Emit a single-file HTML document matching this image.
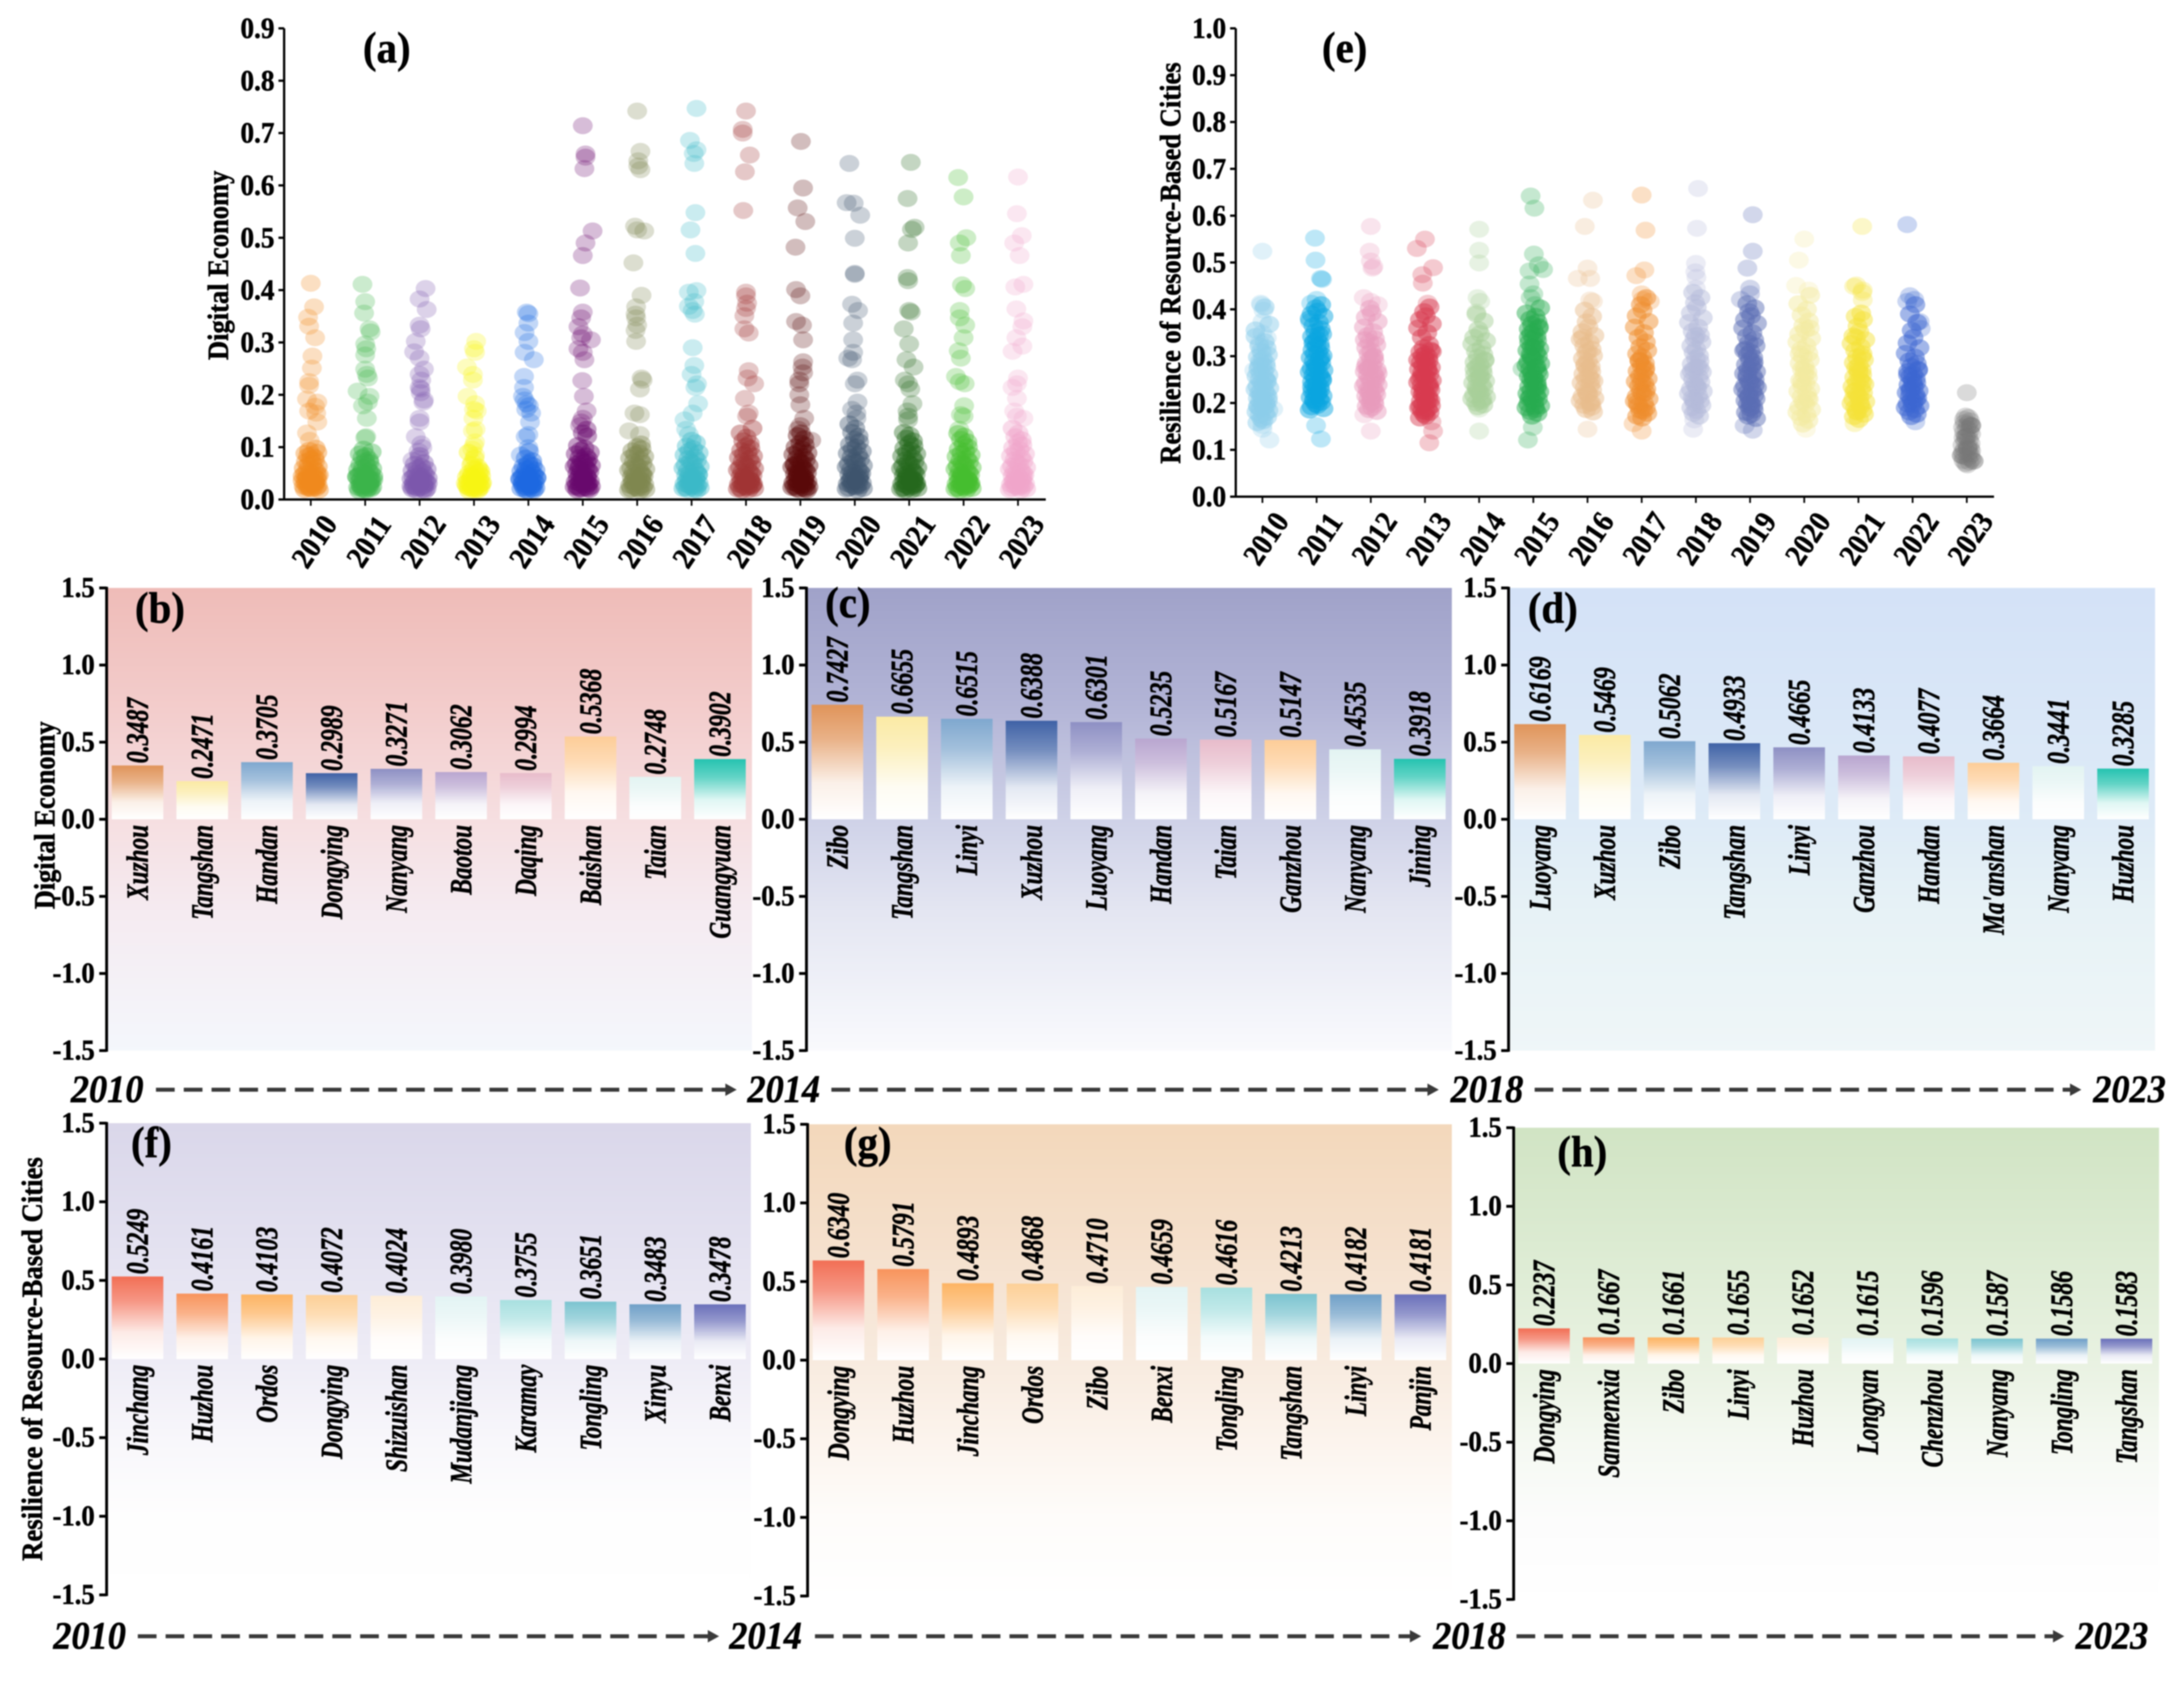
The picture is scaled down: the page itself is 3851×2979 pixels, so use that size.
<!DOCTYPE html>
<html lang="en">
<head>
<meta charset="utf-8">
<title>Digital Economy and Resilience of Resource-Based Cities</title>
<style>
html,body{margin:0;padding:0;background:#fff;width:3851px;height:2979px;overflow:hidden}
svg{display:block;filter:blur(1px)}
text{font-family:"Liberation Serif",serif;font-weight:bold;fill:#000;stroke:#000;stroke-width:.8px}
</style>
</head>
<body>
<svg id="root" xmlns="http://www.w3.org/2000/svg" width="3851" height="2979" viewBox="0 0 3851 2979"><defs id="defs"></defs></svg>
<script>
const years=[2010,2011,2012,2013,2014,2015,2016,2017,2018,2019,2020,2021,2022,2023];
const ticksDE=[0,.1,.2,.3,.4,.5,.6,.7,.8,.9];
const ticksRE=[0,.1,.2,.3,.4,.5,.6,.7,.8,.9,1];
const ticksBar=[-1.5,-1,-.5,0,.5,1,1.5];
const colorsDE=['#f08a1d','#3db54a','#7e57ad','#f8f414','#1f6ae0','#6a0a6e','#7f8650','#3bb9c9','#a03535','#5a0a0a','#3e566e','#25681f','#45bd30','#efa6cb'];
const colorsRE=['#8dcdea','#0aa5e0','#e79bbd','#d83a50','#a8cf98','#27ab50','#e8bd8c','#ef8c2b','#b4bada','#5a6cb4','#f3ea9e','#f5e138','#3c66d0','#777777'];
const jitterCycle=[0,.08,-.09,.03,-.04,.13,-.13,.06,-.06,.1,-.02,.02,-.11,.15,-.15,.05,-.07,.09,-.03,.12,-.1,.01,-.05,.07];

/* Digital economy strip values by year (outliers first, then the dense mass) */
const de2010=[.413,.368,.348,.331,.309,.274,.251,.225,.218,.192,.186,.178,.169,.165,.148,.127,.113,.098,.094,.09,.088,.085,.083,.08,.077,.074,.072,.069,.066,.063,.06,.058,.056,.054,.052,.05,.049,.047,.045,.044,.042,.041,.04,.038,.037,.036,.034,.033,.032,.031,.03,.028,.027,.026,.025,.024,.023,.022,.021,.02,.019,.018,.036,.029,.041,.033,.024,.046];
const de2011=[.411,.378,.356,.326,.32,.297,.288,.276,.249,.239,.232,.207,.197,.186,.179,.155,.12,.118,.096,.091,.087,.084,.08,.076,.073,.071,.067,.064,.061,.059,.057,.055,.053,.051,.05,.048,.046,.045,.043,.042,.04,.039,.037,.036,.035,.033,.032,.03,.029,.028,.027,.026,.025,.024,.023,.022,.021,.02,.019,.018,.017,.038,.044,.031,.026,.034];
const de2012=[.403,.383,.363,.333,.326,.302,.282,.27,.249,.239,.228,.214,.211,.204,.19,.186,.155,.148,.12,.106,.099,.092,.078,.075,.084,.07,.067,.063,.06,.058,.055,.053,.05,.048,.046,.045,.043,.041,.04,.038,.037,.036,.034,.033,.032,.03,.029,.028,.027,.026,.024,.023,.022,.021,.02,.019,.018,.017,.035,.039,.027,.031,.025,.042];
const de2013=[.302,.288,.281,.253,.239,.228,.197,.183,.172,.169,.155,.134,.131,.11,.103,.096,.085,.071,.057,.054,.09,.079,.066,.062,.059,.052,.05,.048,.047,.045,.043,.041,.04,.038,.036,.035,.033,.032,.031,.029,.028,.027,.025,.024,.023,.022,.021,.02,.019,.018,.017,.037,.044,.03,.026,.034];
const de2014=[.358,.355,.337,.319,.302,.281,.267,.235,.214,.197,.19,.183,.179,.172,.165,.148,.124,.12,.099,.085,.071,.092,.079,.074,.068,.065,.063,.06,.058,.056,.054,.052,.05,.048,.047,.045,.044,.042,.04,.039,.037,.036,.034,.033,.032,.031,.029,.028,.027,.026,.025,.024,.023,.022,.021,.02,.019,.018,.017,.035,.03,.041,.038,.026];
const de2015=[.714,.66,.654,.632,.513,.49,.466,.404,.358,.347,.33,.316,.309,.305,.288,.281,.267,.227,.197,.169,.155,.148,.141,.134,.127,.121,.103,.098,.094,.09,.087,.083,.08,.077,.074,.071,.068,.065,.063,.061,.059,.057,.055,.053,.05,.048,.047,.045,.043,.042,.04,.038,.037,.035,.034,.033,.031,.03,.029,.028,.026,.025,.024,.023,.022,.021,.02,.019,.018,.036,.064,.072,.044,.029];
const de2016=[.742,.665,.647,.637,.63,.522,.515,.513,.452,.39,.368,.354,.347,.333,.323,.302,.232,.228,.211,.165,.162,.131,.124,.106,.101,.097,.093,.089,.086,.082,.079,.076,.072,.069,.066,.063,.06,.058,.056,.053,.051,.049,.047,.045,.043,.041,.04,.038,.036,.035,.033,.032,.03,.029,.027,.026,.025,.023,.022,.021,.02,.019,.018,.017,.034,.046];
const de2017=[.747,.686,.668,.661,.642,.548,.515,.47,.399,.396,.378,.369,.361,.354,.29,.256,.239,.221,.214,.183,.165,.152,.134,.124,.113,.108,.102,.097,.093,.089,.085,.081,.078,.075,.072,.069,.066,.063,.06,.058,.055,.053,.05,.048,.046,.044,.043,.041,.04,.038,.036,.034,.033,.031,.03,.029,.028,.026,.025,.024,.023,.022,.021,.02,.019,.018,.037,.047];
const de2018=[.742,.707,.7,.658,.626,.552,.396,.389,.375,.365,.351,.326,.318,.246,.232,.221,.193,.165,.159,.136,.127,.119,.112,.107,.102,.098,.094,.09,.086,.083,.08,.077,.073,.07,.067,.064,.061,.059,.056,.054,.052,.05,.048,.046,.044,.042,.041,.039,.037,.036,.034,.033,.031,.03,.029,.028,.027,.025,.024,.023,.022,.021,.02,.019,.018,.035,.043,.028];
const de2019=[.684,.595,.557,.531,.482,.401,.389,.34,.333,.305,.263,.253,.242,.228,.221,.2,.181,.155,.141,.134,.113,.127,.122,.116,.108,.104,.1,.096,.092,.089,.086,.082,.079,.076,.073,.07,.067,.065,.062,.06,.058,.056,.053,.051,.049,.047,.045,.043,.042,.04,.038,.037,.035,.034,.032,.031,.03,.029,.027,.026,.025,.024,.023,.022,.021,.02,.019,.018,.066,.061,.048,.036];
const de2020=[.642,.567,.566,.543,.499,.432,.43,.373,.361,.337,.305,.27,.281,.267,.228,.221,.186,.172,.165,.155,.144,.136,.128,.121,.115,.11,.105,.1,.096,.092,.088,.085,.081,.077,.074,.071,.068,.065,.062,.059,.057,.054,.052,.05,.048,.046,.044,.042,.04,.038,.036,.035,.033,.032,.03,.029,.028,.026,.025,.024,.022,.021,.02,.018,.037,.045];
const de2021=[.644,.575,.52,.516,.49,.424,.418,.361,.358,.326,.297,.267,.253,.228,.221,.211,.183,.169,.159,.152,.128,.123,.117,.112,.107,.102,.098,.094,.09,.087,.083,.08,.076,.073,.07,.067,.064,.061,.059,.056,.054,.052,.05,.048,.046,.044,.042,.04,.039,.037,.035,.034,.032,.031,.03,.028,.027,.026,.025,.023,.022,.021,.02,.019,.018,.036,.044,.029];
const de2022=[.615,.578,.5,.49,.466,.41,.403,.361,.347,.333,.309,.284,.27,.235,.225,.221,.179,.162,.159,.134,.126,.121,.115,.11,.105,.1,.096,.092,.088,.085,.082,.078,.075,.072,.069,.066,.064,.061,.058,.056,.054,.051,.049,.047,.045,.043,.042,.04,.038,.037,.035,.034,.032,.031,.03,.028,.027,.026,.024,.023,.022,.021,.02,.019,.018,.036,.046,.029];
const de2023=[.616,.546,.504,.49,.466,.411,.406,.364,.341,.33,.309,.293,.283,.232,.221,.214,.193,.169,.159,.155,.136,.127,.12,.114,.109,.104,.099,.095,.091,.087,.083,.08,.076,.073,.07,.067,.064,.061,.058,.055,.053,.051,.049,.047,.045,.043,.041,.039,.038,.036,.034,.033,.031,.03,.029,.027,.026,.025,.024,.023,.022,.02,.019,.018,.035,.044];
const deSeries=[de2010,de2011,de2012,de2013,de2014,de2015,de2016,de2017,de2018,de2019,de2020,de2021,de2022,de2023];
/* Horizontal scatter of the readable outliers, in fractions of a category */
const deSpread2010=[0,.06,-.05,-.03,.08,.03,.02,-.03,-.03,-.07,.12,.08,-.03,.1,.12,-.07,-.02];
const deSpread2011=[-.05,0,-.02,.08,.1,0,.02,0,0,.03,.05,-.14,.08,.05,-.04,.03,.02,0];
const deSpread2012=[.11,0,.13,0,.02,-.07,-.1,0,.08,0,.03,0,.02,.02,.08,.07,0,0,-.07,.03,.05,-.02,0,-.13];
const deSpread2013=[.04,0,.02,-.13,-.02,-.02,-.12,.02,0,.05,-.01,.03,-.02,.02,0,-.03,.02,-.03,.1];
const deSpread2014=[-.03,0,0,-.07,0,-.07,.1,-.08,-.08,-.1,-.07,-.03,.01,-.04,.05,.03,0,-.05,0,-.14,0];
const deSpread2015=[0,.05,.05,.03,.18,.05,0,-.05,0,-.03,-.08,0,-.03,.15,-.08,0,.03,-.01,.02,.07,0,-.03,-.05];
const deSpread2016=[0,.06,.02,.02,.06,-.04,0,.13,-.07,.08,-.02,-.03,-.02,0,-.03,-.02,.08,.1,.05,-.05,.05,-.15,.05];
const deSpread2017=[.09,-.03,.09,.04,.05,.07,-.02,.07,.09,-.05,.05,-.05,.02,.06,.02,.05,0,.1,.07,.12,.02,-.13,-.1,-.05];
const deSpread2018=[0,-.06,-.06,.07,-.02,-.05,0,0,.02,0,-.03,-.03,.05,.05,.03,.15,-.02,.05,.02];
const deSpread2019=[.01,.05,-.05,.09,-.09,-.08,0,-.08,.03,.05,.05,.04,.05,-.02,-.02,-.02,0,.07,0,-.04,.2];
const deSpread2020=[-.1,-.15,-.02,.1,0,0,0,-.05,.06,-.03,-.03,-.12,-.03,-.05,.05,0,.05,-.05,.03,.03];
const deSpread2021=[.03,-.03,.1,.05,-.02,-.03,-.02,0,.03,-.1,0,-.05,.08,-.08,-.02,.02,.06,-.03,-.02,-.02];
const deSpread2022=[-.1,0,.05,-.07,-.05,-.03,.03,-.07,-.07,.03,0,-.09,-.05,-.14,-.07,.02,.01,-.05,0,-.08];
const deSpread2023=[0,-.02,.07,-.07,.03,.1,-.05,-.03,.1,.08,-.03,.08,-.1,0,-.02,-.1,-.02,-.07,-.02,.1];
const deSpreads=[deSpread2010,deSpread2011,deSpread2012,deSpread2013,deSpread2014,deSpread2015,deSpread2016,deSpread2017,deSpread2018,deSpread2019,deSpread2020,deSpread2021,deSpread2022,deSpread2023];

/* Resilience strip values by year */
const re2010=[.524,.413,.41,.398,.374,.349,.339,.328,.308,.152,.144,.121,.27,.187,.342,.331,.322,.317,.311,.303,.298,.294,.289,.285,.281,.277,.273,.268,.264,.26,.257,.253,.25,.246,.243,.239,.236,.232,.229,.226,.222,.219,.216,.213,.21,.207,.204,.201,.198,.195,.192,.19,.187,.184,.181,.178,.174,.17,.166,.162,.158,.368,.356,.405,.279,.248,.224,.205,.193];
const re2011=[.552,.505,.466,.464,.421,.413,.374,.152,.123,.41,.403,.396,.39,.385,.38,.372,.365,.358,.352,.347,.342,.336,.331,.326,.322,.318,.313,.309,.305,.301,.297,.293,.289,.285,.281,.277,.274,.27,.266,.263,.259,.255,.252,.248,.245,.241,.238,.235,.231,.228,.225,.221,.218,.215,.212,.208,.205,.202,.198,.195,.192,.188,.185,.345,.328,.296,.271,.251,.234,.219,.206];
const re2012=[.577,.524,.503,.491,.488,.425,.417,.41,.175,.14,.402,.392,.383,.374,.362,.352,.344,.337,.33,.324,.318,.311,.305,.3,.295,.29,.285,.28,.275,.271,.267,.263,.259,.255,.251,.247,.243,.239,.236,.232,.228,.225,.222,.218,.215,.211,.208,.204,.201,.197,.193,.19,.186,.182,.335,.298,.274,.249,.229,.212,.277,.263];
const re2013=[.55,.53,.489,.474,.456,.413,.16,.14,.115,.405,.395,.386,.378,.369,.36,.35,.34,.325,.318,.313,.309,.305,.301,.298,.294,.29,.287,.283,.28,.276,.272,.269,.265,.262,.258,.255,.251,.248,.244,.241,.238,.234,.231,.228,.224,.221,.218,.214,.211,.207,.204,.201,.197,.194,.19,.187,.183,.18,.176,.172,.168,.31,.292,.274,.257,.239,.223,.206,.192,.182];
const re2014=[.571,.526,.499,.425,.417,.394,.187,.14,.39,.375,.357,.348,.34,.333,.326,.318,.31,.304,.298,.292,.287,.282,.277,.273,.268,.264,.26,.256,.251,.247,.243,.238,.234,.23,.226,.221,.217,.213,.209,.204,.2,.196,.192,.291,.272,.254,.228,.208];
const re2015=[.642,.616,.518,.495,.485,.482,.454,.433,.425,.41,.273,.148,.121,.403,.392,.385,.379,.373,.368,.363,.358,.353,.348,.343,.338,.333,.329,.324,.32,.316,.312,.308,.304,.3,.296,.292,.288,.284,.28,.276,.272,.268,.265,.261,.257,.253,.25,.246,.242,.238,.235,.231,.227,.224,.22,.217,.213,.209,.206,.202,.198,.194,.19,.186,.182,.178,.172,.36,.34,.318,.299,.278,.255,.233,.21,.192];
const re2016=[.633,.577,.488,.466,.466,.42,.417,.144,.398,.385,.373,.362,.352,.344,.336,.329,.322,.315,.308,.301,.295,.289,.283,.278,.272,.267,.262,.257,.252,.247,.243,.238,.233,.228,.224,.219,.214,.21,.205,.2,.195,.191,.186,.181,.34,.31,.28,.25,.22,.2];
const re2017=[.644,.569,.484,.472,.433,.421,.417,.156,.14,.425,.41,.398,.386,.374,.362,.35,.34,.33,.32,.312,.305,.298,.291,.285,.279,.274,.268,.263,.257,.252,.246,.241,.236,.23,.225,.22,.214,.209,.204,.199,.194,.189,.184,.178,.172,.168,.29,.27,.245,.222,.2,.183];
const re2018=[.658,.573,.498,.48,.468,.445,.144,.164,.436,.425,.414,.404,.392,.382,.372,.362,.353,.345,.337,.33,.322,.315,.308,.301,.295,.289,.283,.277,.272,.266,.261,.255,.25,.245,.24,.235,.23,.225,.22,.215,.21,.205,.2,.195,.19,.184,.178,.172,.344,.275,.268,.231,.206];
const re2019=[.602,.524,.488,.445,.433,.421,.152,.142,.412,.403,.395,.386,.378,.37,.36,.35,.342,.335,.328,.322,.315,.309,.303,.297,.292,.287,.282,.277,.272,.267,.263,.258,.254,.25,.246,.241,.237,.233,.229,.225,.221,.217,.213,.209,.205,.201,.197,.193,.189,.185,.18,.176,.172,.167,.312,.283,.26,.238,.215,.195];
const re2020=[.55,.505,.451,.441,.144,.43,.412,.4,.388,.375,.365,.356,.347,.338,.33,.322,.314,.306,.299,.292,.285,.278,.272,.266,.26,.254,.248,.242,.236,.23,.225,.219,.213,.208,.202,.197,.191,.186,.18,.175,.169,.163,.155,.36,.305,.27,.245,.21];
const re2021=[.577,.449,.441,.156,.452,.436,.42,.392,.385,.378,.364,.352,.343,.335,.327,.32,.312,.305,.298,.292,.286,.28,.275,.27,.265,.26,.255,.25,.245,.24,.235,.231,.226,.222,.217,.212,.208,.203,.199,.194,.19,.185,.181,.176,.171,.165,.34,.3,.27,.245,.225,.2,.182];
const re2022=[.581,.429,.421,.417,.374,.359,.16,.41,.39,.372,.355,.34,.328,.318,.306,.298,.29,.284,.278,.272,.267,.262,.257,.252,.248,.243,.239,.234,.23,.226,.222,.218,.214,.21,.206,.202,.198,.194,.19,.186,.181,.176,.171,.27,.26,.24,.225,.208,.196];
const re2023=[.222,.172,.169,.165,.162,.158,.155,.152,.148,.145,.141,.138,.134,.13,.126,.122,.118,.114,.11,.107,.104,.101,.098,.095,.092,.089,.086,.083,.08,.077,.074,.071,.068,.152,.128,.103,.088,.076];
const reSeries=[re2010,re2011,re2012,re2013,re2014,re2015,re2016,re2017,re2018,re2019,re2020,re2021,re2022,re2023];
const reSpread2010=[0,-.03,-.02,.02,0,0,.08,-.05,0,0,0,.13,-.15,.2];
const reSpread2011=[-.03,-.02,.08,.1,0,-.1,-.12,-.01,.08];
const reSpread2012=[0,-.02,0,.05,.03,-.13,0,.13,-.12,0];
const reSpread2013=[0,-.15,.15,-.05,-.04,.05,.12,.15,.08];
const reSpread2014=[0,0,0,-.03,.02,-.05,0,0];
const reSpread2015=[-.05,.02,.01,.1,.18,-.07,-.07,0,-.05,.03,-.2,-.01,-.1];
const reSpread2016=[.1,-.05,0,-.18,.05,.05,.1,0];
const reSpread2017=[0,.07,.05,-.1,0,.02,.15,-.15,0];
const reSpread2018=[.04,.02,0,-.01,.01,0,-.05,-.03];
const reSpread2019=[.05,.05,-.05,0,0,-.17,-.1,.05];
const reSpread2020=[0,-.1,-.15,.08,.03];
const reSpread2021=[.07,-.08,.08,-.07,-.04,.07,.08];
const reSpread2022=[-.1,-.05,.03,-.1,.13,.15,.05];
const reSpread2023=[0,-.02,.03,-.05,.06,-.04,.02,.07,-.07,0,.05,-.05,.08,.02,-.06,.04,-.03,.07,-.08,.02,.06,-.04,.08,-.07,.03,.07,-.05,.02,.09,-.06,.05,-.02,.01];
const reSpreads=[reSpread2010,reSpread2011,reSpread2012,reSpread2013,reSpread2014,reSpread2015,reSpread2016,reSpread2017,reSpread2018,reSpread2019,reSpread2020,reSpread2021,reSpread2022,reSpread2023];

/* Bar panels */
const citiesB=['Xuzhou','Tangshan','Handan','Dongying','Nanyang','Baotou','Daqing','Baishan','Taian','Guangyuan'];
const valuesB=[.3487,.2471,.3705,.2989,.3271,.3062,.2994,.5368,.2748,.3902];
const citiesC=['Zibo','Tangshan','Linyi','Xuzhou','Luoyang','Handan','Taian','Ganzhou','Nanyang','Jining'];
const valuesC=[.7427,.6655,.6515,.6388,.6301,.5235,.5167,.5147,.4535,.3918];
const citiesD=['Luoyang','Xuzhou','Zibo','Tangshan','Linyi','Ganzhou','Handan',"Ma'anshan",'Nanyang','Huzhou'];
const valuesD=[.6169,.5469,.5062,.4933,.4665,.4133,.4077,.3664,.3441,.3285];
const citiesF=['Jinchang','Huzhou','Ordos','Dongying','Shizuishan','Mudanjiang','Karamay','Tongling','Xinyu','Benxi'];
const valuesF=[.5249,.4161,.4103,.4072,.4024,.398,.3755,.3651,.3483,.3478];
const citiesG=['Dongying','Huzhou','Jinchang','Ordos','Zibo','Benxi','Tongling','Tangshan','Linyi','Panjin'];
const valuesG=[.634,.5791,.4893,.4868,.471,.4659,.4616,.4213,.4182,.4181];
const citiesH=['Dongying','Sanmenxia','Zibo','Linyi','Huzhou','Longyan','Chenzhou','Nanyang','Tongling','Tangshan'];
const valuesH=[.2237,.1667,.1661,.1655,.1652,.1615,.1596,.1587,.1586,.1583];
const paletteCool=['#e0945a','#fbeaa5','#7fa8cf','#3f62a6','#8e90c4','#b9a6d0','#e8bccb','#fdcd98','#e3f4f2','#25c3b0'];
const paletteWarm=['#f26f55','#f8945c','#fdb463','#fdd097','#fdedd8','#e3f4f4','#a8e0e0','#7cc4d0','#70a0c8','#6a70ba'];

const NS='http://www.w3.org/2000/svg';
const root=document.getElementById('root');
const defs=document.getElementById('defs');
function make(tag,attrs,parent,txt){
  const el=document.createElementNS(NS,tag);
  for(const k in attrs)el.setAttribute(k,attrs[k]);
  if(txt!==undefined)el.textContent=txt;
  (parent||root).appendChild(el);
  return el;
}
/* transform: rotate about the anchor, then stretch glyphs across the baseline */
function tf(x,y,angle,sy){
  return 'translate('+x+' '+y+') rotate('+angle+') scale(1 '+sy+')';
}
function mix(hex,t){
  const n=parseInt(hex.slice(1),16);
  const ch=[n>>16&255,n>>8&255,n&255].map(c=>Math.round(255+(c-255)*t));
  return 'rgb('+ch.join(',')+')';
}
let gradId=0;
function vGrad(stops){
  const id='g'+(gradId++);
  const g=make('linearGradient',{id:id,x1:0,y1:0,x2:0,y2:1},defs);
  stops.forEach(s=>make('stop',{offset:s[0],'stop-color':s[1]},g));
  return 'url(#'+id+')';
}

function drawStrip(o){
  const g=make('g',{});
  
  
  const maxTick=o.ticks[o.ticks.length-1];
  const yScale=v=>o.y0-(v/maxTick)*(o.y0-o.yTop);
  const step=(o.lastX-o.firstX)/(years.length-1);
  const xScale=i=>o.firstX+i*step;
  years.forEach((yr,i)=>{
    const series=make('g',{fill:o.colors[i]},g);
    
    
    o.series[i].forEach((v,k)=>{
      const sp=o.spreads[i];
      const inMass=k>=sp.length;
      const j=inMass?jitterCycle[k%jitterCycle.length]*o.massSpread:sp[k];
      const dot=make('ellipse',{cx:xScale(i)+j*step,cy:yScale(v),rx:17.5,ry:15,'fill-opacity':inMass?o.massOpacity:0.27},series);
      
      
    });
  });
  const yAxis=make('line',{x1:o.left,x2:o.left,y1:o.yTop,y2:o.y0+2,stroke:'#000','stroke-width':4},g);
  
  
  const xAxis=make('line',{x1:o.left,x2:o.right,y1:o.y0,y2:o.y0,stroke:'#000','stroke-width':4},g);
  
  
  o.ticks.forEach(t=>{
    const y=yScale(t);
    const tk=make('line',{x1:o.left-10,x2:o.left,y1:y,y2:y,stroke:'#000','stroke-width':4},g);
    
    
    const lb=make('text',{'text-anchor':'end','font-size':48,transform:tf(o.left-17,y+17,0,1.08)},g,t.toFixed(1));
    
    
  });
  years.forEach((yr,i)=>{
    const x=xScale(i);
    const tk=make('line',{x1:x,x2:x,y1:o.y0,y2:o.y0+11,stroke:'#000','stroke-width':3},g);
    
    
    const lx=x+21,ly=o.y0+84;
    const lb=make('text',{'text-anchor':'middle','font-size':49,transform:tf(lx,ly,-56,1.1)},g,yr);
    
    
  });
  const ttl=make('text',{'text-anchor':'middle','font-size':46,textLength:o.titleLen,lengthAdjust:'spacingAndGlyphs',transform:tf(o.titleX,o.titleY,-90,1.12)},g,o.title);
  
  
  const pl=make('text',{'font-size':72,transform:tf(o.tagX,o.tagY,0,1.08)},g,o.tag);
  
  
}

function drawBars(o){
  const g=make('g',{});
  
  
  const unit=(o.y0-o.yTop)/1.5;
  const yScale=v=>o.y0-v*unit;
  const bg=make('rect',{x:o.left,y:o.yTop,width:o.right-o.left,height:3*unit,fill:vGrad(o.bg)},g);
  
  
  const step=(o.lastBar-o.firstBar)/(o.values.length-1);
  const barW=91;
  o.values.forEach((v,i)=>{
    const x=o.firstBar+i*step,c=x+barW/2,col=o.palette[i];
    const fill=vGrad([[0,col],[.3,mix(col,.72)],[.68,mix(col,.14)],[1,'#ffffff']]);
    const bar=make('rect',{x:x,y:yScale(v),width:barW,height:v*unit,fill:fill},g);
    
    
    const vx=c+18,vy=yScale(v)-4;
    const vl=make('text',{'font-size':42,'font-style':'italic',transform:tf(vx,vy,-90,1.32)},g,v.toFixed(4));
    
    
    const cy=o.y0+10;
    const cl=make('text',{'text-anchor':'end','font-size':41,'font-style':'italic',transform:tf(vx,cy,-90,1.32)},g,o.cities[i]);
    
    
  });
  const ax=make('line',{x1:o.left,x2:o.left,y1:o.yTop-2,y2:yScale(-1.5)+2,stroke:'#000','stroke-width':5},g);
  
  
  ticksBar.forEach(t=>{
    const y=yScale(t);
    const tk=make('line',{x1:o.left-13,x2:o.left,y1:y,y2:y,stroke:'#000','stroke-width':5},g);
    
    
    const lb=make('text',{'text-anchor':'end','font-size':47,transform:tf(o.left-21,y+16,0,1.08)},g,t.toFixed(1));
    
    
  });
  const pl=make('text',{'font-size':72,transform:tf(o.tagX,o.tagY,0,1.08)},g,o.tag);
  
  
}

function drawArrow(x1,x2,y,startX,label){
  const g=make('g',{});
  
  
  const t=make('text',{'font-size':64,'font-style':'italic',transform:tf(startX,y+22,0,1.08)},g,label);
  
  
  const l=make('line',{x1:x1,x2:x2-20,y1:y,y2:y,stroke:'#3a3a3a','stroke-width':7,'stroke-dasharray':'33 16'},g);
  
  
  const h=make('polygon',{points:(x2-20)+','+(y-11)+' '+x2+','+y+' '+(x2-20)+','+(y+11),fill:'#3a3a3a'},g);
  
  
}

drawStrip({name:'panel-a-digital-economy-strip',series:deSeries,spreads:deSpreads,colors:colorsDE,massOpacity:.4,massSpread:1,ticks:ticksDE,left:501,right:1844,firstX:548,lastX:1795,yTop:50,y0:881,title:'Digital Economy',titleX:402,titleY:468,titleLen:334,tag:'(a)',tagX:640,tagY:110});
drawStrip({name:'panel-e-resilience-strip',series:reSeries,spreads:reSpreads,colors:colorsRE,massOpacity:.48,massSpread:.85,ticks:ticksRE,left:2179,right:3516,firstX:2226,lastX:3468,yTop:50,y0:876,title:'Resilience of Resource-Based Cities',titleX:2081,titleY:464,titleLen:708,tag:'(e)',tagX:2331,tagY:110});

drawBars({name:'panel-b-top-cities-2010',cities:citiesB,values:valuesB,palette:paletteCool,left:188,right:1326,yTop:1037,y0:1445,firstBar:197,lastBar:1224,tag:'(b)',tagX:238,tagY:1098,bg:[[0,'#efbcb8'],[.25,'#f3cccb'],[.5,'#f6dfe1'],[.7,'#f5ebf1'],[1,'#f4f7fc']]});
drawBars({name:'panel-c-top-cities-2014',cities:citiesC,values:valuesC,palette:paletteCool,left:1422,right:2560,yTop:1037,y0:1445,firstBar:1431,lastBar:2458,tag:'(c)',tagX:1455,tagY:1089,bg:[[0,'#a0a2c9'],[.25,'#b2b4d6'],[.5,'#cfd2e8'],[.7,'#e4e6f2'],[1,'#f9fafd']]});
drawBars({name:'panel-d-top-cities-2018',cities:citiesD,values:valuesD,palette:paletteCool,left:2660,right:3800,yTop:1037,y0:1445,firstBar:2670,lastBar:3698,tag:'(d)',tagX:2694,tagY:1098,bg:[[0,'#d4e2f7'],[.5,'#deebf7'],[.7,'#e7f2f6'],[1,'#eff6f8']]});
drawBars({name:'panel-f-top-cities-2010',cities:citiesF,values:valuesF,palette:paletteWarm,left:188,right:1324,yTop:1981,y0:2397,firstBar:197,lastBar:1224,tag:'(f)',tagX:231,tagY:2041,bg:[[0,'#dad7ea'],[.25,'#e3e1f0'],[.5,'#eeecf6'],[.67,'#f8f7fb'],[.83,'#fefefe'],[1,'#ffffff']]});
drawBars({name:'panel-g-top-cities-2014',cities:citiesG,values:valuesG,palette:paletteWarm,left:1424,right:2560,yTop:1983,y0:2399,firstBar:1433,lastBar:2459,tag:'(g)',tagX:1488,tagY:2041,bg:[[0,'#f3d8bb'],[.25,'#f5e0cc'],[.5,'#f8ebdf'],[.67,'#fcf4ed'],[.83,'#fefcfa'],[1,'#ffffff']]});
drawBars({name:'panel-h-top-cities-2018',cities:citiesH,values:valuesH,palette:paletteWarm,left:2669,right:3807,yTop:1989,y0:2405,firstBar:2677,lastBar:3704,tag:'(h)',tagX:2746,tagY:2057,bg:[[0,'#d1e4c4'],[.25,'#dcebd2'],[.5,'#e9f2e2'],[.67,'#f5f9f2'],[.83,'#fcfcfc'],[1,'#ffffff']]});

function sideTitle(text,x,y,len,name){
  const t=make('text',{'text-anchor':'middle','font-size':46,textLength:len,lengthAdjust:'spacingAndGlyphs',transform:tf(x,y,-90,1.12)});
  t.textContent=text;
  
  
}
sideTitle('Digital Economy',96,1438,331,'row-1-y-axis-title');
sideTitle('Resilience of Resource-Based Cities',74,2397,712,'row-2-y-axis-title');

drawArrow(275,1299,1922,125,'2010');
drawArrow(1466,2537,1922,1318,'2014');
drawArrow(2706,3670,1922,2558,'2018');
const lastTop=make('text',{'font-size':64,'font-style':'italic',transform:tf(3691,1944,0,1.08)});
lastTop.textContent='2023';


drawArrow(243,1268,2886,94,'2010');
drawArrow(1437,2506,2886,1286,'2014');
drawArrow(2674,3640,2886,2527,'2018');
const lastBottom=make('text',{'font-size':64,'font-style':'italic',transform:tf(3660,2908,0,1.08)});
lastBottom.textContent='2023';


</script>
</body>
</html>
